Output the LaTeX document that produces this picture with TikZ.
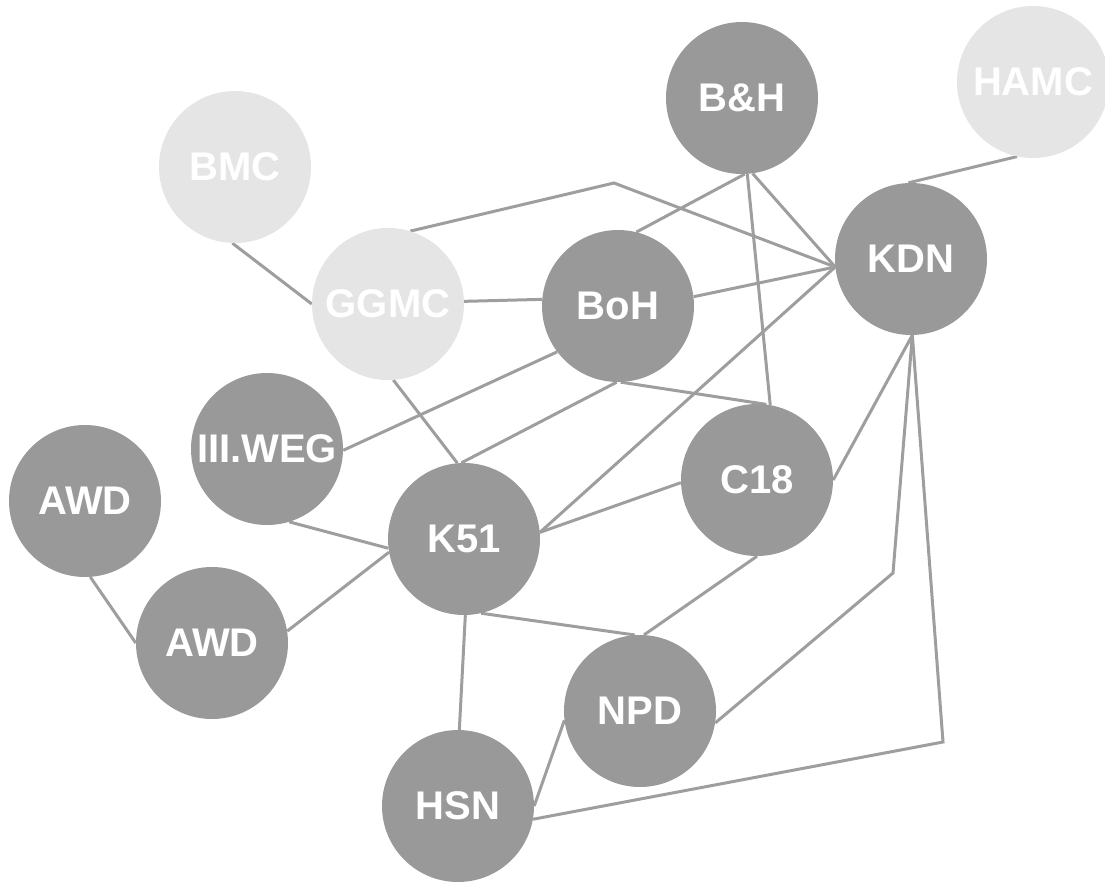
\documentclass[tikz,border=0pt]{standalone}
\usepackage{fontspec}
\setsansfont{Liberation Sans}
\usepackage{tikz}
\usetikzlibrary{backgrounds}
\definecolor{nodegray}{HTML}{999999}
\definecolor{nodelight}{HTML}{E5E5E5}
\definecolor{linkgray}{HTML}{9E9E9E}

\begin{document}
\begin{tikzpicture}[
  x=1pt, y=-1pt,
  font=\sffamily\bfseries\fontsize{40}{40}\selectfont,
  dark/.style={
    circle, fill=nodegray, text=white,
    minimum size=152pt, inner sep=0pt
  },
  light/.style={dark, fill=nodelight},
  link/.style={draw=linkgray, line width=3pt},
]
\useasboundingbox (0,0) rectangle (1105,881);

% Nodes
\node[dark]  (bh)   at (742,98)  {B\&H};
\node[light] (hamc) at (1033,82) {HAMC};
\node[light] (bmc)  at (235,167) {BMC};
\node[dark]  (kdn)  at (911,259) {KDN};
\node[light] (ggmc) at (388,304) {GGMC};
\node[dark]  (boh)  at (618,306) {BoH};
\node[dark]  (weg)  at (267,449) {III.WEG};
\node[dark]  (awda) at (85,501)  {AWD};
\node[dark]  (c18)  at (757,480) {C18};
\node[dark]  (k51)  at (464,539) {K51};
\node[dark]  (awdb) at (212,643) {AWD};
\node[dark]  (npd)  at (640,711) {NPD};
\node[dark]  (hsn)  at (458,806) {HSN};

% Bend points
\coordinate (peak)  at (614,183);
\coordinate (bendA) at (893,573);
\coordinate (bendB) at (943,742);

% Links
\begin{scope}[on background layer]
\draw[link] (bmc.268) -- (ggmc.180);
\draw[link] (ggmc.2) -- (boh.175);
\draw[link] (ggmc.73) -- (peak) -- (kdn.186);
\draw[link] (bh.-88) -- (boh.76);
\draw[link] (bh.-86) -- (c18.80);
\draw[link] (bh.-82) -- (kdn.186);
\draw[link] (hamc.258) -- (kdn.92);
\draw[link] (boh.7) -- (kdn.186);
\draw[link] (boh.217) -- (weg.-1);
\draw[link] (ggmc.-86) -- (k51.95);
\draw[link] (boh.-91) -- (k51.92);
\draw[link] (boh.-88) -- (c18.83);
\draw[link] (k51.5) -- (kdn.186);
\draw[link] (k51.5) -- (c18.182);
\draw[link] (kdn.-89) -- (c18.0);
\draw[link] (kdn.-89) -- (bendA) -- (npd.-9);
\draw[link] (kdn.-89) -- (bendB) -- (hsn.-10);
\draw[link] (c18.-90) -- (npd.87);
\draw[link] (k51.-77) -- (npd.94);
\draw[link] (k51.-89) -- (hsn.89);
\draw[link] (npd.187) -- (hsn.0);
\draw[link] (weg.-73) -- (k51.187);
\draw[link] (awdb.9) -- (k51.190);
\draw[link] (awda.-86) -- (awdb.180);
\end{scope}

\end{tikzpicture}
\end{document}
